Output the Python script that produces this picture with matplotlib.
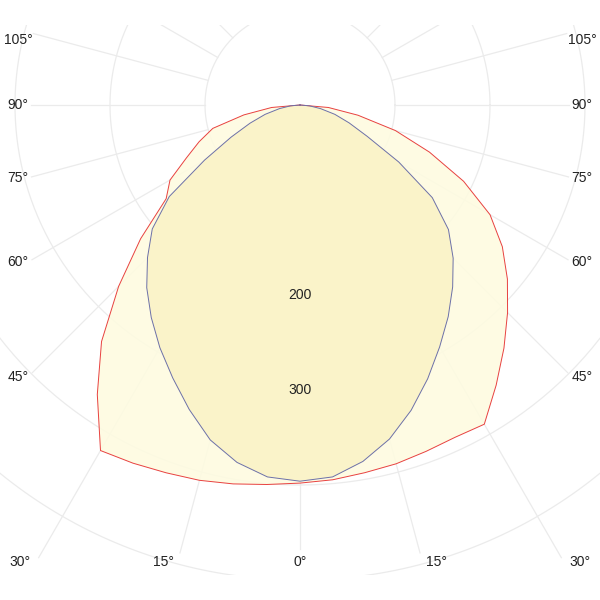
import numpy as np
import matplotlib
matplotlib.use("Agg")
import matplotlib.pyplot as plt
from matplotlib.patches import Rectangle

plt.rcParams['font.family'] = ['Liberation Sans', 'DejaVu Sans']

# gamma angles (deg from nadir) and intensities (cd/klm)
angles = [0, 5, 10, 15, 20, 25, 30, 35, 40, 45, 50, 55, 60, 65, 70, 75, 80, 85, 90]
red_right = [398, 396, 393, 391, 388, 386, 388, 360, 334, 309, 285, 260, 231, 190, 145, 104, 62, 30, 0]
red_left = [398, 401, 405, 409, 412, 416, 420, 372, 325, 270, 219, 172, 158, 132, 113, 95, 60, 30, 0]
blue_right = [396, 393, 381, 364, 342, 318, 294, 272, 250, 228, 204, 170, 120, 78, 55, 38, 22, 10, 0]
blue_left = [396, 393, 382, 365, 341, 317, 295, 273, 251, 227, 203, 168, 116, 80, 56, 38, 22, 10, 0]

rings = [100, 200, 300, 400, 500]
ring_labels = [200, 300]
spoke_angles = list(range(0, 360, 15))
label_angles = [0, 15, 30, 45, 60, 75, 90, 105]

px = 0.95  # pixels per cd/klm
fig = plt.figure(figsize=(6, 6), dpi=100)
ax = fig.add_axes([0, 0, 1, 1])
ax.set_xlim(-300 / px, 300 / px)
ax.set_ylim(-495 / px, 105 / px)
ax.set_aspect('equal')
ax.axis('off')

grid_col = '#ebebeb'
clip = Rectangle((-300 / px, -470 / px), 600 / px, 550 / px, transform=ax.transData)

def to_xy(ang, r, side):
    a = np.radians(ang)
    return side * np.asarray(r) * np.sin(a), -np.asarray(r) * np.cos(a)

# rings
t = np.linspace(0, 2 * np.pi, 400)
for r in rings:
    ln, = ax.plot(r * np.cos(t), r * np.sin(t), color=grid_col, lw=0.9, zorder=1)
    ln.set_clip_path(clip)

# label positions for the angle ticks
B = 457 / px
def label_pos(ang, side):
    a = np.radians(ang)
    if ang < 40:
        x = min(np.tan(a) * 510 / px, 280 / px)
        return side * x, -B
    y = -272 / px / np.tan(a)
    y = min(y, 65 / px)
    return side * 282 / px, y

# spokes
for ang in spoke_angles:
    side = 1
    g = ang if ang <= 180 else 360 - ang
    if ang > 180:
        side = -1
    if g in label_angles:
        lx, ly = label_pos(g, side)
        rend = np.hypot(lx, ly) - 14
    else:
        rend = 800
    xs, ys = to_xy(g, [100, rend], side)
    ln, = ax.plot(xs, ys, color=grid_col, lw=0.9, zorder=1)
    ln.set_clip_path(clip)

for g in label_angles:
    for side in ([1] if g == 0 else [-1, 1]):
        lx, ly = label_pos(g, side)
        ax.text(lx, ly, f"{g}°", fontsize=10, color='#222222',
                ha='center', va='center', zorder=5)

# curves
ang_full = np.array(angles[::-1] + angles[1:])
red_full = np.array(red_left[::-1] + red_right[1:])
blue_full = np.array(blue_left[::-1] + blue_right[1:])
sides = np.array([-1] * len(angles) + [1] * (len(angles) - 1))

rx, ry = to_xy(ang_full, red_full, 1)
rx = rx * sides
bx, by = to_xy(ang_full, blue_full, 1)
bx = bx * sides

ax.fill(rx, ry, color='#fefbe0', alpha=0.88, lw=0, zorder=2)
ax.fill(bx, by, color='#faf3c6', alpha=0.88, lw=0, zorder=3)
ax.plot(rx, ry, color='#e8413f', lw=0.7, zorder=4)
ax.plot(bx, by, color='#6c70a8', lw=0.7, zorder=4)

for r in ring_labels:
    ax.text(0, -r, str(r), fontsize=10, color='#222222', ha='center',
            va='center', zorder=5)

fig.savefig("out.png", dpi=100)
